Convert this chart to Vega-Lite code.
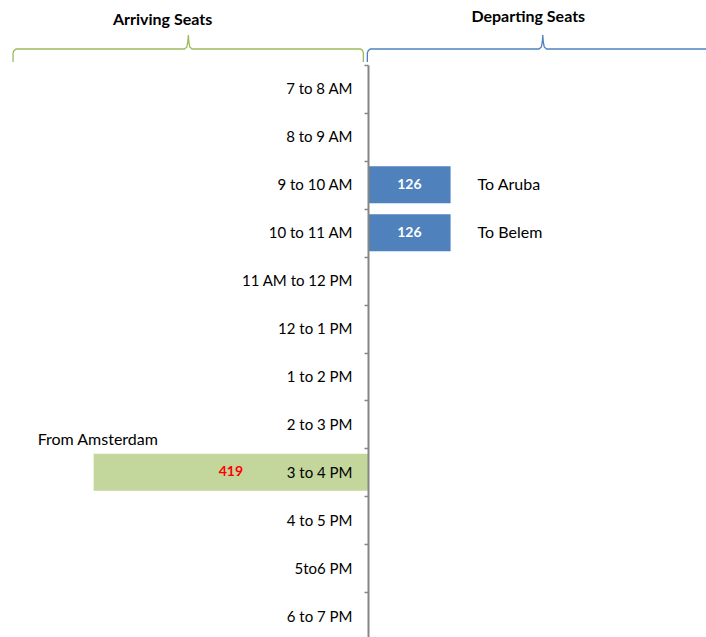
{
  "$schema": "https://vega.github.io/schema/vega-lite/v6.json",
  "padding": 0,
  "spacing": 0,
  "bounds": "flush",
  "config": {"view": {"stroke": null}, "font": "Lato"},
  "resolve": {"scale": {"color": "independent", "x": "independent", "y": "independent"}},
  "datasets": {
    "braces": [
      {"brace": "Arriving", "i": 0, "x": -542.1, "y": 62},
      {"brace": "Arriving", "i": 1, "x": -542.1, "y": 53},
      {"brace": "Arriving", "i": 2, "x": -540.5, "y": 50.5},
      {"brace": "Arriving", "i": 3, "x": -537.5, "y": 49},
      {"brace": "Arriving", "i": 4, "x": -280.2, "y": 49},
      {"brace": "Arriving", "i": 5, "x": -276.7, "y": 47},
      {"brace": "Arriving", "i": 6, "x": -275.2, "y": 42},
      {"brace": "Arriving", "i": 7, "x": -274.4, "y": 35},
      {"brace": "Arriving", "i": 8, "x": -273.7, "y": 42},
      {"brace": "Arriving", "i": 9, "x": -272.2, "y": 47},
      {"brace": "Arriving", "i": 10, "x": -268.7, "y": 49},
      {"brace": "Arriving", "i": 11, "x": -11.5, "y": 49},
      {"brace": "Arriving", "i": 12, "x": -8.4, "y": 50.5},
      {"brace": "Arriving", "i": 13, "x": -7.2, "y": 53},
      {"brace": "Arriving", "i": 14, "x": -7.2, "y": 62},
      {"brace": "Departing", "i": 0, "x": -1.1, "y": 62},
      {"brace": "Departing", "i": 1, "x": -1.1, "y": 53},
      {"brace": "Departing", "i": 2, "x": 0.5, "y": 50.5},
      {"brace": "Departing", "i": 3, "x": 3.5, "y": 49},
      {"brace": "Departing", "i": 4, "x": 261.1, "y": 49},
      {"brace": "Departing", "i": 5, "x": 264.6, "y": 47},
      {"brace": "Departing", "i": 6, "x": 266.1, "y": 42},
      {"brace": "Departing", "i": 7, "x": 266.8, "y": 35},
      {"brace": "Departing", "i": 8, "x": 267.5, "y": 42},
      {"brace": "Departing", "i": 9, "x": 269.0, "y": 47},
      {"brace": "Departing", "i": 10, "x": 272.6, "y": 49},
      {"brace": "Departing", "i": 11, "x": 516, "y": 49}
    ],
    "titles": [
      {"title": "Arriving Seats", "x": -313.8, "y": 25},
      {"title": "Departing Seats", "x": 244.6, "y": 21.7}
    ],
    "flights": [
      {"slot": "9 to 10 AM", "dir": "Departing", "seats": 126, "route": "To Aruba"},
      {"slot": "10 to 11 AM", "dir": "Departing", "seats": 126, "route": "To Belem"},
      {"slot": "3 to 4 PM", "dir": "Arriving", "seats": 419, "route": "From Amsterdam"}
    ]
  },
  "vconcat": [
    {
      "width": 706,
      "height": 65,
      "layer": [
        {
          "data": {"name": "braces"},
          "mark": {"type": "line", "strokeWidth": 1.3, "clip": true},
          "encoding": {
            "x": {"field": "x", "type": "quantitative", "scale": {"domain": [-562, 516], "nice": false}, "axis": null},
            "y": {"field": "y", "type": "quantitative", "scale": {"domain": [0, 65], "reverse": true, "nice": false, "zero": false}, "axis": null},
            "color": {"field": "brace", "type": "nominal", "scale": {"domain": ["Arriving", "Departing"], "range": ["#9BBB59", "#4F81BD"]}, "legend": null},
            "order": {"field": "i", "type": "quantitative"}
          }
        },
        {
          "data": {"name": "titles"},
          "mark": {"type": "text", "fontWeight": "bold", "fontSize": 16, "baseline": "alphabetic", "align": "center", "color": "#000000"},
          "encoding": {
            "x": {"field": "x", "type": "quantitative"},
            "y": {"field": "y", "type": "quantitative"},
            "text": {"field": "title"}
          }
        }
      ]
    },
    {
      "width": 706,
      "height": 575,
      "data": {"name": "flights"},
      "transform": [
        {"calculate": "datum.dir === 'Arriving' ? -datum.seats : datum.seats", "as": "pos"},
        {"calculate": "datum.pos / 2", "as": "mid"}
      ],
      "encoding": {
        "y": {
          "field": "slot",
          "type": "nominal",
          "sort": null,
          "scale": {
            "domain": ["7 to 8 AM", "8 to 9 AM", "9 to 10 AM", "10 to 11 AM", "11 AM to 12 PM", "12 to 1 PM", "1 to 2 PM", "2 to 3 PM", "3 to 4 PM", "4 to 5 PM", "5to6 PM", "6 to 7 PM"],
            "paddingInner": 0,
            "paddingOuter": 0
          },
          "axis": {
            "orient": "left",
            "offset": -368,
            "zindex": 1,
            "title": null,
            "grid": false,
            "domainColor": "#868686",
            "domainWidth": 2,
            "tickBand": "extent",
            "tickColor": "#868686",
            "tickSize": 4,
            "tickWidth": 1.5,
            "labelPadding": 12,
            "labelFontSize": 15,
            "labelColor": "#000000",
            "labelFont": "Lato"
          }
        }
      },
      "layer": [
        {
          "mark": {"type": "bar", "height": {"band": 0.77}},
          "encoding": {
            "x": {"field": "pos", "type": "quantitative", "scale": {"domain": [-562, 516], "nice": false}, "axis": null},
            "color": {"field": "dir", "type": "nominal", "scale": {"domain": ["Arriving", "Departing"], "range": ["#C3D69B", "#4F81BD"]}, "legend": null}
          }
        },
        {
          "transform": [{"filter": "datum.dir === 'Departing'"}],
          "mark": {"type": "text", "color": "#FFFFFF", "fontWeight": "bold", "fontSize": 14, "align": "center"},
          "encoding": {
            "x": {"field": "mid", "type": "quantitative"},
            "text": {"field": "seats"}
          }
        },
        {
          "transform": [{"filter": "datum.dir === 'Arriving'"}],
          "mark": {"type": "text", "color": "#FF0000", "fontWeight": "bold", "fontSize": 14, "align": "center"},
          "encoding": {
            "x": {"field": "mid", "type": "quantitative"},
            "text": {"field": "seats"}
          }
        },
        {
          "transform": [{"filter": "datum.dir === 'Departing'"}],
          "mark": {"type": "text", "color": "#000000", "fontSize": 16, "align": "left", "dx": 27},
          "encoding": {
            "x": {"field": "pos", "type": "quantitative"},
            "text": {"field": "route"}
          }
        },
        {
          "transform": [{"filter": "datum.dir === 'Arriving'"}],
          "mark": {"type": "text", "color": "#000000", "fontSize": 16, "align": "left", "dx": -56, "dy": -32},
          "encoding": {
            "x": {"field": "pos", "type": "quantitative"},
            "text": {"field": "route"}
          }
        }
      ]
    }
  ]
}
